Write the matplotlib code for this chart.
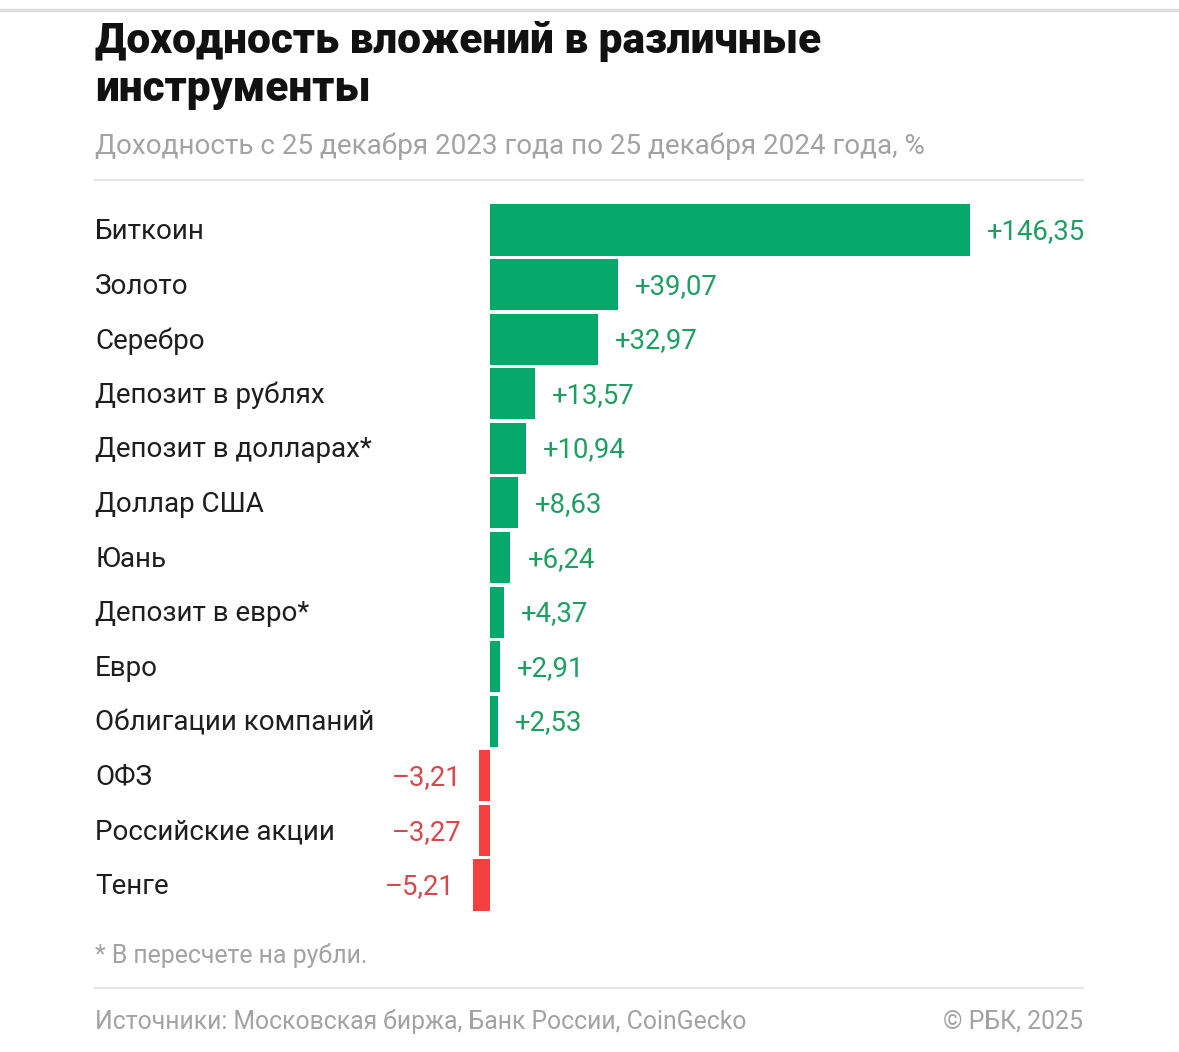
import matplotlib
matplotlib.use("Agg")
import matplotlib.pyplot as plt
from matplotlib.lines import Line2D

categories = ["Биткоин", "Золото", "Серебро", "Депозит в рублях", "Депозит в долларах*",
              "Доллар США", "Юань", "Депозит в евро*", "Евро", "Облигации компаний",
              "ОФЗ", "Российские акции", "Тенге"]
values = [146.35, 39.07, 32.97, 13.57, 10.94, 8.63, 6.24, 4.37, 2.91, 2.53, -3.21, -3.27, -5.21]
labels = ["+146,35", "+39,07", "+32,97", "+13,57", "+10,94", "+8,63", "+6,24", "+4,37",
          "+2,91", "+2,53", "\u20133,21", "\u20133,27", "\u20135,21"]

W, H = 1179, 1052
fig = plt.figure(figsize=(W / 100, H / 100), dpi=100)
fig.patch.set_facecolor("white")
plt.rcParams['font.family'] = ['Roboto', 'DejaVu Sans']

def fx(px):
    return px / W

def fy(py):
    return 1 - py / H

GREEN = "#07A96A"
RED = "#F4403F"
GREEN_T = "#1F9E62"
RED_T = "#D8474B"

zero_px = 490
max_px = 970
ppu = (max_px - zero_px) / max(values)
ax_l, ax_r = 400, 1100
row_top, row_bot = 202.7, 912.3
ax = fig.add_axes([fx(ax_l), fy(row_bot), fx(ax_r - ax_l), (row_bot - row_top) / H])
ax.set_xlim(-(zero_px - ax_l) / ppu, (ax_r - zero_px) / ppu)
n = len(values)
ax.set_ylim(n - 0.5, -0.5)
ax.axis("off")

colors = [GREEN if v >= 0 else RED for v in values]
ax.barh(range(n), values, height=0.935, color=colors, edgecolor="none")
for i, (v, lab) in enumerate(zip(values, labels)):
    yy = i + 0.03
    if v >= 0:
        ax.text(v + 17 / ppu, yy, lab, ha="left", va="center", fontsize=19.8, color=GREEN_T)
    else:
        ax.text(v - 18 / ppu, yy, lab, ha="right", va="center", fontsize=19.8, color=RED_T)
    ax.text(-(zero_px - 95) / ppu, yy, categories[i], ha="left", va="center",
            fontsize=20, color="#1E1E1E")

# Title
fig.text(fx(95), fy(41), "Доходность вложений в различные", fontsize=30.5, fontweight="black",
         ha="left", va="center", color="#111111")
fig.text(fx(95), fy(89), "инструменты", fontsize=30.5, fontweight="black",
         ha="left", va="center", color="#111111")
fig.text(fx(95), fy(146), "Доходность с 25 декабря 2023 года по 25 декабря 2024 года, %",
         fontsize=20.1, ha="left", va="center", color="#A3A3A3")

# lines
fig.add_artist(Line2D([0, 1], [fy(10), fy(10)], color="#DCDCDC", lw=2.5))
fig.add_artist(Line2D([fx(95), fx(1083)], [fy(180), fy(180)], color="#E6E6E6", lw=1.5))
fig.add_artist(Line2D([fx(95), fx(1083)], [fy(988), fy(988)], color="#E6E6E6", lw=1.5))

# footer
fig.text(fx(95), fy(956), "* В пересчете на рубли.", fontsize=17.9, ha="left", va="center",
         color="#A3A3A3")
fig.text(fx(95), fy(1021), "Источники: Московская биржа, Банк России, CoinGecko", fontsize=17.8,
         ha="left", va="center", color="#A3A3A3")
fig.text(fx(1083), fy(1021), "© РБК, 2025", fontsize=17.9, ha="right", va="center",
         color="#A3A3A3")

fig.savefig("out.png", dpi=100, facecolor="white")
